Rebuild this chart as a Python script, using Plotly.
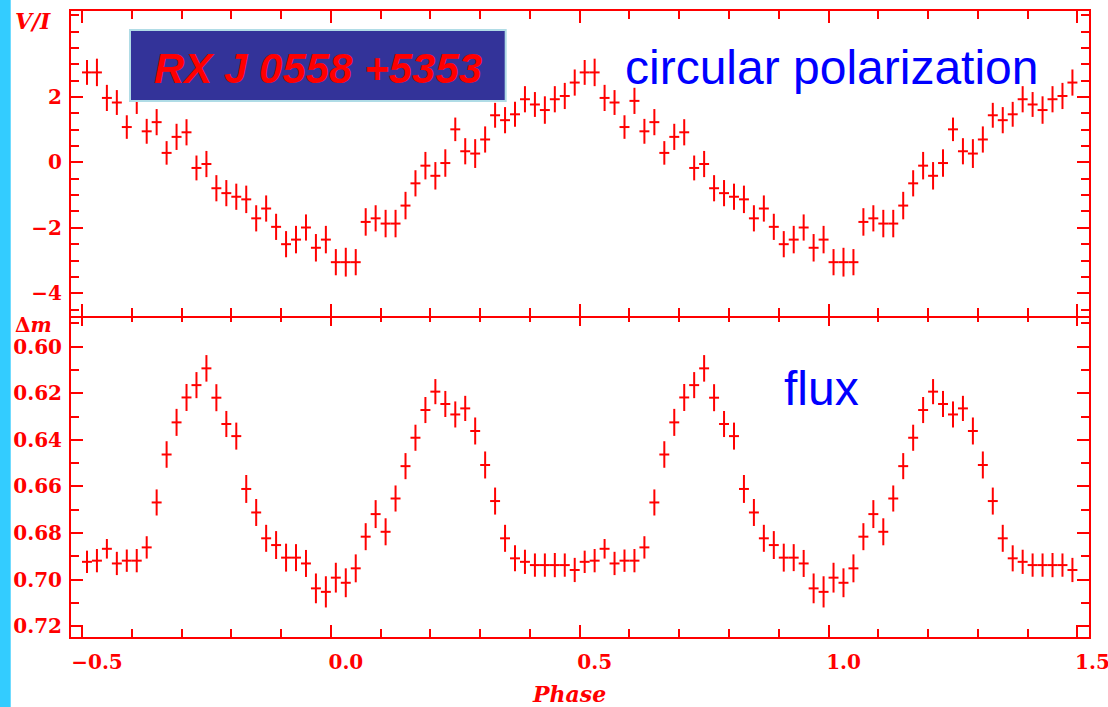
import plotly.graph_objects as go

# ---------------- data (one folded cycle, shown twice) ----------------
PHASE = [-0.49, -0.47, -0.45, -0.43, -0.41, -0.39, -0.37, -0.35, -0.33, -0.31,
         -0.29, -0.27, -0.25, -0.23, -0.21, -0.19, -0.17, -0.15, -0.13, -0.11,
         -0.09, -0.07, -0.05, -0.03, -0.01, 0.01, 0.03, 0.05, 0.07, 0.09,
         0.11, 0.13, 0.15, 0.17, 0.19, 0.21, 0.23, 0.25, 0.27, 0.29,
         0.31, 0.33, 0.35, 0.37, 0.39, 0.41, 0.43, 0.45, 0.47, 0.49]
CYCLE_OFFSETS = [0.0, 1.0]
BIN_HALF_WIDTH = 0.01

V_OVER_I = [2.75, 2.75, 1.97, 1.83, 1.08, 1.88, 0.95, 1.23, 0.29, 0.78,
            0.92, -0.17, -0.05, -0.79, -0.94, -1.05, -1.13, -1.71, -1.41, -1.97,
            -2.50, -2.36, -1.99, -2.61, -2.36, -3.05, -3.05, -3.05, -1.82, -1.71,
            -1.87, -1.87, -1.32, -0.64, -0.10, -0.41, -0.02, 1.01, 0.34, 0.27,
            0.70, 1.44, 1.29, 1.47, 1.93, 1.77, 1.60, 1.93, 2.03, 2.44]
V_OVER_I_ERR = [0.38, 0.42, 0.40, 0.38, 0.36, 0.40, 0.38, 0.40, 0.36, 0.40,
                0.40, 0.38, 0.40, 0.40, 0.40, 0.40, 0.42, 0.40, 0.40, 0.40,
                0.40, 0.42, 0.40, 0.42, 0.42, 0.40, 0.44, 0.40, 0.42, 0.40,
                0.42, 0.42, 0.42, 0.40, 0.42, 0.42, 0.42, 0.36, 0.40, 0.44,
                0.40, 0.38, 0.40, 0.38, 0.40, 0.38, 0.42, 0.40, 0.40, 0.40]

DELTA_M = [0.6924, 0.6919, 0.6868, 0.6931, 0.6919, 0.6919, 0.6862, 0.6669, 0.6463, 0.6325,
           0.6218, 0.6165, 0.6093, 0.6219, 0.6332, 0.6384, 0.6611, 0.6712, 0.6823, 0.6852,
           0.6906, 0.6906, 0.6931, 0.7038, 0.7053, 0.6992, 0.7014, 0.6952, 0.6816, 0.6719,
           0.6795, 0.6652, 0.6513, 0.6391, 0.6272, 0.6193, 0.6246, 0.6291, 0.6265, 0.6362,
           0.6508, 0.6663, 0.6823, 0.6909, 0.6924, 0.6938, 0.6938, 0.6938, 0.6938, 0.6959]
DELTA_M_ERR = [0.0048, 0.0050, 0.0042, 0.0050, 0.0048, 0.0050, 0.0048, 0.0056, 0.0057, 0.0058,
               0.0058, 0.0056, 0.0057, 0.0058, 0.0056, 0.0058, 0.0060, 0.0058, 0.0058, 0.0060,
               0.0060, 0.0058, 0.0058, 0.0064, 0.0067, 0.0064, 0.0062, 0.0060, 0.0058, 0.0060,
               0.0058, 0.0056, 0.0056, 0.0056, 0.0056, 0.0054, 0.0056, 0.0056, 0.0054, 0.0058,
               0.0058, 0.0058, 0.0058, 0.0056, 0.0052, 0.0050, 0.0050, 0.0052, 0.0050, 0.0052]

X_TICKS = [-0.5, 0.0, 0.5, 1.0, 1.5]
TOP_Y_TICKS = [-4, -2, 0, 2]
BOT_Y_TICKS = [0.60, 0.62, 0.64, 0.66, 0.68, 0.70, 0.72]

TITLE = "RX J 0558 +5353"
TOP_LABEL = "circular polarization"
BOT_LABEL = "flux"

# ---------------- styling / layout ----------------
RED = "#ff0000"
BLUE = "#0000ff"
W, H = 1108, 707
ML, MR, MT, MB = 71, 19, 11, 70
PW, PH = W - ML - MR, H - MT - MB
SPLIT_PX = 315  # y pixel of the panel divider line


def px_x(px):
    return (px - ML) / PW


def px_y(py):
    return (H - MB - py) / PH


# the two panels' frame lines are drawn just outside their domains; offset by 1px so they coincide
bot_domain_top = px_y(SPLIT_PX - 1)
top_domain_bot = px_y(SPLIT_PX + 1)

phase_all, vi_all, vi_err_all, dm_all, dm_err_all = [], [], [], [], []
for off in CYCLE_OFFSETS:
    phase_all += [p + off for p in PHASE]
    vi_all += V_OVER_I
    vi_err_all += V_OVER_I_ERR
    dm_all += DELTA_M
    dm_err_all += DELTA_M_ERR

fig = go.Figure()

common_marker = dict(size=1, color="rgba(0,0,0,0)")
fig.add_trace(go.Scatter(
    x=phase_all, y=vi_all, mode="markers", marker=common_marker,
    xaxis="x2", yaxis="y2", showlegend=False, hoverinfo="skip",
    error_x=dict(type="constant", value=BIN_HALF_WIDTH, thickness=2, width=0, color=RED),
    error_y=dict(type="data", array=vi_err_all, thickness=2, width=0, color=RED),
))
fig.add_trace(go.Scatter(
    x=phase_all, y=dm_all, mode="markers", marker=common_marker,
    xaxis="x", yaxis="y", showlegend=False, hoverinfo="skip",
    error_x=dict(type="constant", value=BIN_HALF_WIDTH, thickness=2, width=0, color=RED),
    error_y=dict(type="data", array=dm_err_all, thickness=2, width=0, color=RED),
))

tick_font = dict(family="DejaVu Serif", size=20, color=RED, weight="bold")
x_range = [-0.5221, 1.5233]

axis_common = dict(
    showline=True, linecolor=RED, linewidth=2, mirror="ticks",
    ticks="inside", ticklen=12, tickwidth=2, tickcolor=RED,
    showgrid=False, zeroline=False, tickfont=tick_font, automargin=False,
)

fig.update_layout(
    width=W, height=H, autosize=False,
    margin=dict(l=ML, r=MR, t=MT, b=MB, pad=0),
    paper_bgcolor="white", plot_bgcolor="white",
    xaxis=dict(
        **axis_common, domain=[0, 1], anchor="y", range=x_range,
        tickvals=X_TICKS, tickformat=".1f", ticklabelshift=15, ticklabelstandoff=6,
        ticklabeloverflow="allow",
        minor=dict(dtick=0.1, tick0=0, ticks="inside", ticklen=8, tickwidth=2, tickcolor=RED),
    ),
    xaxis2=dict(
        **axis_common, domain=[0, 1], anchor="y2", range=x_range, matches="x",
        tickvals=X_TICKS, showticklabels=False,
        minor=dict(dtick=0.1, tick0=0, ticks="inside", ticklen=8, tickwidth=2, tickcolor=RED),
    ),
    yaxis=dict(
        **axis_common, domain=[0, bot_domain_top], anchor="x", range=[0.72469, 0.58595],
        tickvals=BOT_Y_TICKS, tickformat=".2f", ticklabelstandoff=3,
        minor=dict(dtick=0.01, tick0=0, ticks="inside", ticklen=8, tickwidth=2, tickcolor=RED),
    ),
    yaxis2=dict(
        **axis_common, domain=[top_domain_bot, 1], anchor="x2", range=[-4.695, 4.627],
        tickvals=TOP_Y_TICKS, ticklabelstandoff=3,
        minor=dict(dtick=0.5, tick0=0, ticks="inside", ticklen=8, tickwidth=2, tickcolor=RED),
    ),
)

# cyan strip at the left edge and the title box
fig.add_shape(type="rect", xref="paper", yref="paper",
              x0=px_x(0), x1=px_x(10.7), y0=px_y(H + 5), y1=px_y(-5),
              fillcolor="#33ccff", line=dict(width=0), layer="below")
fig.add_shape(type="rect", xref="paper", yref="paper",
              x0=px_x(130), x1=px_x(505.7), y0=px_y(101), y1=px_y(30),
              fillcolor="#333399", line=dict(color="#b0dce6", width=2), layer="above")

annotations = [
    dict(text=TITLE, x=px_x(318), y=px_y(68),
         font=dict(family="Liberation Sans", size=42, color=RED, weight="bold", style="italic")),
    dict(text=TOP_LABEL, x=px_x(831.5), y=px_y(67.5),
         font=dict(family="Liberation Sans", size=48, color=BLUE)),
    dict(text=BOT_LABEL, x=px_x(821.5), y=px_y(388.5),
         font=dict(family="Liberation Sans", size=48, color=BLUE)),
    dict(text="<i>V/I</i>", x=px_x(33), y=px_y(21),
         font=dict(family="DejaVu Serif", size=22, color=RED, weight="bold")),
    dict(text="Δ<i>m</i>", x=px_x(33), y=px_y(325),
         font=dict(family="DejaVu Serif", size=20, color=RED, weight="bold")),
    dict(text="<i>Phase</i>", x=px_x(569), y=px_y(694),
         font=dict(family="DejaVu Serif", size=22, color=RED, weight="bold")),
]
for a in annotations:
    fig.add_annotation(xref="paper", yref="paper", showarrow=False,
                       xanchor="center", yanchor="middle", borderpad=0, **a)

# remove the page margin and clip anything (the "1.5" label) that runs past the figure edge
page_js = (
    "document.documentElement.style.overflow='hidden';"
    "document.body.style.margin='0';document.body.style.overflow='hidden';"
    "var d=document.getElementById('{plot_id}');"
    "d.style.overflow='hidden';d.style.width='1108px';d.style.height='707px';"
    "var c=d.parentNode;if(c){c.style.overflow='hidden';c.style.width='1108px';}"
)
fig.write_html("out.html",
               config={"displayModeBar": False, "responsive": False},
               default_width="1108px", default_height="707px",
               post_script=page_js)
